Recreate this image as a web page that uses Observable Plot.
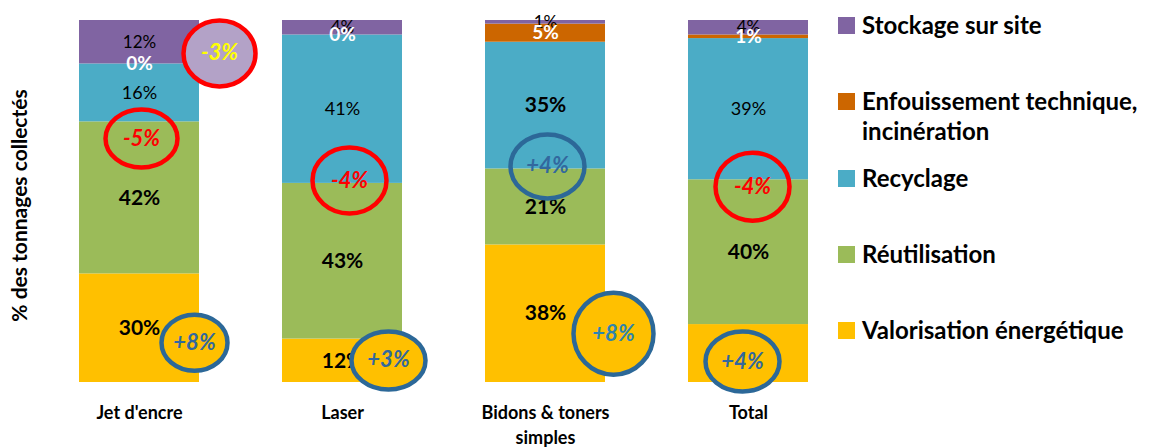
<!DOCTYPE html>
<html>
<head>
<meta charset="utf-8">
<script src="https://cdn.jsdelivr.net/npm/d3@7"></script>
<script src="https://cdn.jsdelivr.net/npm/@observablehq/plot@0.6"></script>
<style>
  html, body { margin: 0; padding: 0; background: #fff; }
  #wrap { position: relative; width: 1150px; height: 447px; font-family: Lato, "Open Sans", sans-serif; }
  #chart svg { display: block; }
  #legend { position: absolute; left: 0; top: 0; width: 1150px; height: 447px; pointer-events: none; }
  .item { position: absolute; left: 838px; display: flex; align-items: flex-start; }
  .sw { width: 17px; height: 17px; margin-top: 0px; margin-right: 7px; flex: none; }
  .lab { font-weight: 700; font-size: 24px; line-height: 30px; color: #000; white-space: pre; margin-top: -7px; }
</style>
</head>
<body>
<div id="wrap"><div id="chart"></div><div id="legend"></div></div>
<script>
// ---- data ----
const categories = ["Jet d'encre", "Laser", "Bidons & toners simples", "Total"];
const series = ["Valorisation énergétique", "Réutilisation", "Recyclage", "Enfouissement technique, incinération", "Stockage sur site"];
const valorisation = [30, 12, 38, 16];
const reutilisation = [42, 43, 21, 40];
const recyclage = [16, 41, 35, 39];
const enfouissement = [0, 0, 5, 1];
const stockage = [12, 4, 1, 4];
const colors = ["#FFC000", "#9BBB59", "#4BACC6", "#CC6600", "#8064A2"];

// evolution annotations
const deltaCategory = ["Jet d'encre", "Jet d'encre", "Jet d'encre", "Laser", "Laser", "Bidons & toners simples", "Bidons & toners simples", "Total", "Total"];
const deltaSeries = ["Stockage sur site", "Réutilisation", "Valorisation énergétique", "Réutilisation", "Valorisation énergétique", "Réutilisation", "Valorisation énergétique", "Réutilisation", "Valorisation énergétique"];
const deltaLabel = ["-3%", "-5%", "+8%", "-4%", "+3%", "+4%", "+8%", "-4%", "+4%"];

// annotation layout (percent level, pixel offset, radii)
const deltaAt = [90.9, 67.4, 11.0, 55.8, 6.1, 59.7, 13.5, 54.1, 5.8];
const deltaDx = [80, 2, 55, 7, 46, 2, 68, 4, -6];
const deltaRx = [36, 36, 33, 37, 37, 37, 40, 37, 37];
const deltaRy = [33, 29, 28, 33, 29, 32, 41, 34, 30];

// ---- build tables ----
const valuesBySeries = [valorisation, reutilisation, recyclage, enfouissement, stockage];
const rows = [];
categories.forEach((c, i) => series.forEach((s, j) => rows.push({category: c, series: s, value: valuesBySeries[j][i]})));

const annotations = deltaLabel.map((t, i) => ({category: deltaCategory[i], series: deltaSeries[i], label: t, at: deltaAt[i], dx: deltaDx[i], rx: deltaRx[i], ry: deltaRy[i]}));

// label styles
const styleOf = d => {
  if (d.series === "Enfouissement technique, incinération") return "white";
  if (d.series === "Stockage sur site") return "small";
  if (d.series === "Recyclage") return d.category === "Bidons & toners simples" ? "bold" : "normal";
  return "bold";
};
const pct = d => d.value + "%";

function ellipse(k) {
  const c = 0.5522847498;
  return {
    draw(ctx, size) {
      const rx = Math.sqrt(size / Math.PI), ry = rx * k;
      ctx.moveTo(rx, 0);
      ctx.bezierCurveTo(rx, c * ry, c * rx, ry, 0, ry);
      ctx.bezierCurveTo(-c * rx, ry, -rx, c * ry, -rx, 0);
      ctx.bezierCurveTo(-rx, -c * ry, -c * rx, -ry, 0, -ry);
      ctx.bezierCurveTo(c * rx, -ry, rx, -c * ry, rx, 0);
      ctx.closePath();
    }
  };
}
const fillOf = a => a.series === "Stockage sur site" ? "#B3A2C7" : a.series === "Valorisation énergétique" ? "#FFC000" : "none";
const strokeOf = a => a.label.startsWith("-") ? "#FF0000" : "#2C6898";
const textOf = a => a.series === "Stockage sur site" ? "#FFFF00" : a.label.startsWith("-") ? "#FF0000" : (a.at < 20 && a.category === "Bidons & toners simples" ? "#2E84AE" : "#32689E");

const stackOpts = (extra) => Plot.stackY({x: "category", y: "value", z: "series", order: series, ...extra});
const tickLabel = d => d === "Bidons & toners simples" ? "Bidons & toners\nsimples" : d;

const font = "Lato, 'Open Sans', sans-serif";

const marks = [
  Plot.barY(rows, {x: "category", y: "value", fill: "series", order: series}),
  Plot.text(rows, stackOpts({text: d => styleOf(d) === "bold" ? pct(d) : "", fill: "#000", fontWeight: "bold", fontSize: 21})),
  Plot.text(rows, stackOpts({text: d => styleOf(d) === "normal" ? pct(d) : "", fill: "#000", fontSize: 18})),
  Plot.text(rows, stackOpts({text: d => styleOf(d) === "small" ? pct(d) : "", fill: "#000", fontSize: 17})),
  Plot.text(rows, stackOpts({text: d => styleOf(d) === "white" ? pct(d) : "", fill: "#fff", fontWeight: "bold", fontSize: 19})),
  ...annotations.map(a => Plot.dot([a], {x: "category", y: "at", dx: a.dx, r: a.rx, symbol: ellipse(a.ry / a.rx), fill: fillOf(a), stroke: strokeOf(a), strokeWidth: 4.5})),
  ...annotations.map(a => Plot.text([a], {x: "category", y: "at", dx: a.dx, text: "label", fill: textOf(a), fontWeight: "bold", fontStyle: "italic", fontSize: 22})),
  Plot.text(categories, {x: d => d, frameAnchor: "bottom", lineAnchor: "top", dy: 19, text: tickLabel, fontSize: 18, fontWeight: "bold", fill: "#000", lineHeight: 1.38}),
  Plot.text(["% des tonnages collectés"], {frameAnchor: "left", text: d => d, rotate: -90, textAnchor: "middle", dx: -20, dy: 4, fontSize: 21, fontWeight: "bold", fill: "#000"})
];

const chart = Plot.plot({
  width: 1150,
  height: 447,
  marginTop: 20,
  marginBottom: 65,
  marginLeft: 40,
  marginRight: 303,
  style: {fontFamily: font, background: "#fff", overflow: "visible"},
  x: {domain: categories, paddingInner: 0.409, paddingOuter: 0.192, axis: null},
  y: {domain: [0, 100], axis: null},
  color: {domain: series, range: colors},
  marks
});
document.getElementById("chart").appendChild(chart);

// legend (top to bottom = reverse stacking order)
const legend = document.getElementById("legend");
series.slice().reverse().forEach((s, i) => {
  const idx = series.indexOf(s);
  const item = document.createElement("div");
  item.className = "item";
  item.style.top = (17 + 76.3 * i) + "px";
  const sw = document.createElement("div");
  sw.className = "sw";
  sw.style.background = colors[idx];
  const lab = document.createElement("div");
  lab.className = "lab";
  lab.textContent = s.replace(", ", ",\n");
  item.appendChild(sw); item.appendChild(lab);
  legend.appendChild(item);
});
</script>
</body>
</html>
